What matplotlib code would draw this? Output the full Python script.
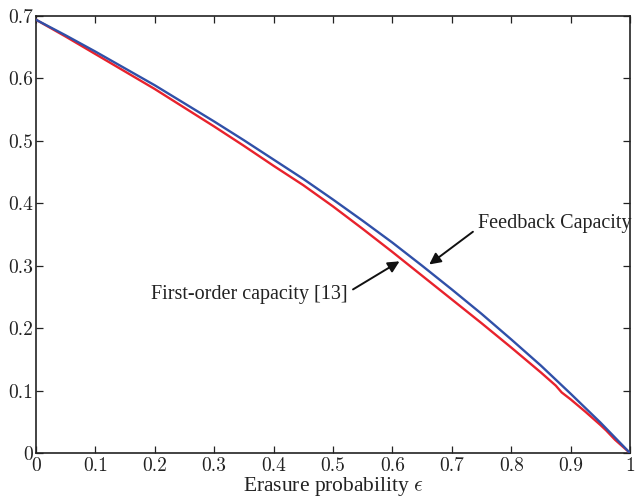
import matplotlib
matplotlib.use("Agg")
import matplotlib.pyplot as plt

# Data
eps_fb = [0.0, 0.05, 0.1, 0.15, 0.2, 0.25, 0.3, 0.35, 0.4, 0.45, 0.5,
          0.55, 0.6, 0.65, 0.7, 0.75, 0.8, 0.85, 0.9, 0.95, 1.0]
feedback_capacity = [0.694, 0.669, 0.643, 0.616, 0.589, 0.560, 0.531, 0.501,
                     0.470, 0.439, 0.406, 0.372, 0.337, 0.300, 0.262, 0.223,
                     0.182, 0.140, 0.095, 0.049, 0.0]

eps_fo = [0.0, 0.05, 0.1, 0.15, 0.2, 0.25, 0.3, 0.35, 0.4, 0.45, 0.5,
          0.55, 0.6, 0.65, 0.7, 0.75, 0.8, 0.85, 0.875, 0.885, 0.9,
          0.925, 0.95, 0.96, 0.975, 1.0]
first_order_capacity = [0.694, 0.667, 0.639, 0.611, 0.583, 0.553, 0.523, 0.492,
                        0.460, 0.429, 0.395, 0.359, 0.322, 0.284, 0.246, 0.208,
                        0.169, 0.129, 0.108, 0.097, 0.086, 0.066, 0.045, 0.036,
                        0.021, 0.0]

xticks = [0, 0.1, 0.2, 0.3, 0.4, 0.5, 0.6, 0.7, 0.8, 0.9, 1]
xticklabels = ["0", "0.1", "0.2", "0.3", "0.4", "0.5", "0.6", "0.7", "0.8", "0.9", "1"]
yticks = [0, 0.1, 0.2, 0.3, 0.4, 0.5, 0.6, 0.7]
yticklabels = ["0", "0.1", "0.2", "0.3", "0.4", "0.5", "0.6", "0.7"]

plt.rcParams['mathtext.fontset'] = 'cm'

fig = plt.figure(figsize=(6.37, 4.97), dpi=100)
ax = fig.add_axes([36/637, 1-453/497, (630-36)/637, (453-16)/497])

blue = '#3050a8'
red = '#e8222c'
ax.plot(eps_fo, first_order_capacity, color=red, lw=1.7, zorder=3)
ax.plot(eps_fb, feedback_capacity, color=blue, lw=1.7, zorder=4)

ax.set_xlim(0, 1)
ax.set_ylim(0, 0.7)
ax.set_xticks(xticks)
ax.set_xticklabels(xticklabels)
ax.set_yticks(yticks)
ax.set_yticklabels(yticklabels)

for lab in ax.get_xticklabels() + ax.get_yticklabels():
    lab.set_family('cmr10')
    lab.set_fontsize(14)
    lab.set_fontweight('bold')

ax.tick_params(direction='in', length=5, width=0.9, top=True, right=True,
               colors='#222222', labelcolor='#222222', pad=3)
ax.tick_params(axis='y', pad=2)
for s in ax.spines.values():
    s.set_linewidth(1.2)
    s.set_color('#222222')

ax.set_xlabel(r"Erasure probability $\epsilon$", family='Liberation Serif',
              fontsize=15.5, color='#222222', labelpad=0)

ax.annotate("Feedback Capacity", xy=(0.662, 0.302), xytext=(0.744, 0.368),
            family='Liberation Serif', fontsize=14.5, color='#222222',
            ha='left', va='center',
            arrowprops=dict(arrowstyle='-|>', color='#111111', lw=1.4,
                            mutation_scale=17, shrinkA=2, shrinkB=0,
                            relpos=(0.0, 0.25)))
ax.annotate("First-order capacity [13]", xy=(0.612, 0.307), xytext=(0.525, 0.254),
            family='Liberation Serif', fontsize=14.5, color='#222222',
            ha='right', va='center',
            arrowprops=dict(arrowstyle='-|>', color='#111111', lw=1.4,
                            mutation_scale=17, shrinkA=2, shrinkB=0,
                            relpos=(1.0, 0.6)))

fig.savefig("out.png", dpi=100)
